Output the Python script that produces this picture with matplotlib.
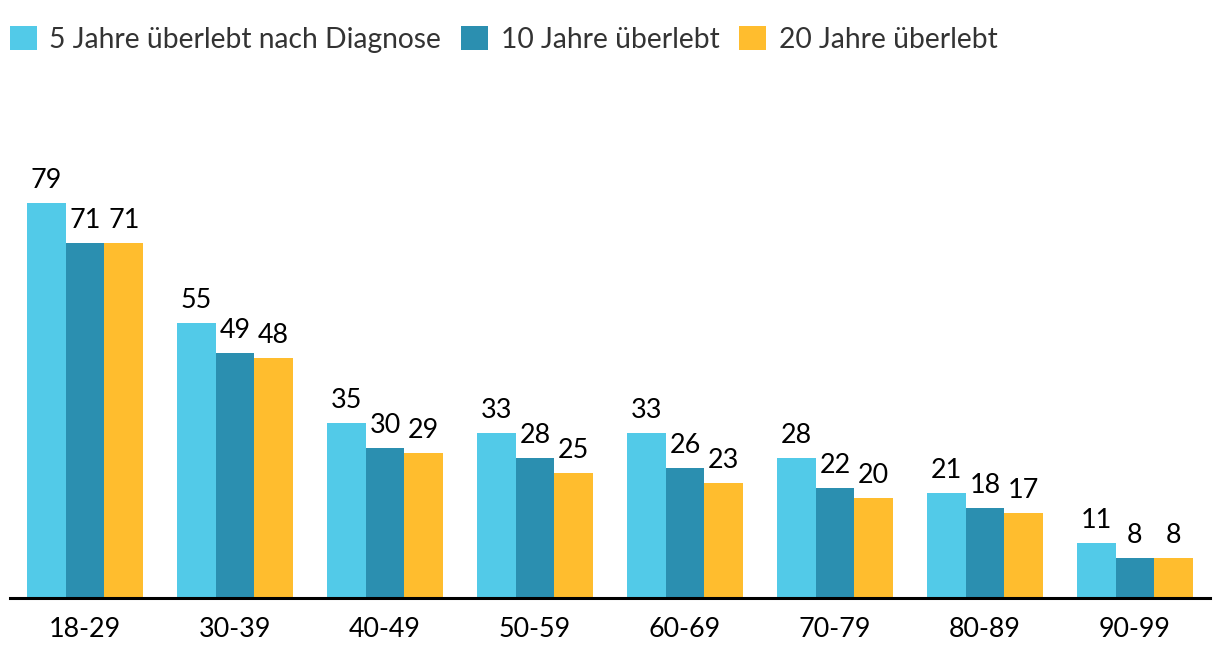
import matplotlib.pyplot as plt
import numpy as np

age_groups = ["18-29", "30-39", "40-49", "50-59", "60-69", "70-79", "80-89", "90-99"]
series_names = ["5 Jahre überlebt nach Diagnose", "10 Jahre überlebt", "20 Jahre überlebt"]
five_years = [79, 55, 35, 33, 33, 28, 21, 11]
ten_years = [71, 49, 30, 28, 26, 22, 18, 8]
twenty_years = [71, 48, 29, 25, 23, 20, 17, 8]

COLORS = ["#52CAE8", "#2B8FB0", "#FFBD2E"]
FONT = "Lato"
FS = 19.4
LEGEND_FS = 20.3

plt.rcParams["font.family"] = [FONT, "DejaVu Sans"]

fig = plt.figure(figsize=(12.2, 6.66), dpi=100)
W, H = 1220, 666
ax = fig.add_axes([10 / W, 68 / H, 1200 / W, 500 / H])

x = np.arange(len(age_groups))
width = 0.258
values = [five_years, ten_years, twenty_years]
for i, (name, vals) in enumerate(zip(series_names, values)):
    bars = ax.bar(x + (i - 1) * width, vals, width, color=COLORS[i], label=name)
    ax.bar_label(bars, padding=7.0, fontsize=FS, color="black")

ax.set_xlim(-0.5, len(age_groups) - 0.5)
ax.set_ylim(0, 100)
ax.set_xticks(x)
ax.set_xticklabels(age_groups, fontsize=FS, color="black")
ax.tick_params(axis="x", length=0, pad=14)
ax.set_yticks([])
for side in ["top", "right", "left"]:
    ax.spines[side].set_visible(False)
ax.spines["bottom"].set_linewidth(2.2)
ax.spines["bottom"].set_color("black")

leg = fig.legend(
    loc="upper left",
    bbox_to_anchor=(10 / W, 1 - 26 / H),
    ncol=3,
    frameon=False,
    fontsize=LEGEND_FS,
    handlelength=0.95,
    handleheight=0.95,
    handletextpad=0.45,
    columnspacing=0.7,
    borderpad=0,
    borderaxespad=0,
)
for t in leg.get_texts():
    t.set_color("#333333")

fig.savefig("out.png", dpi=100)
